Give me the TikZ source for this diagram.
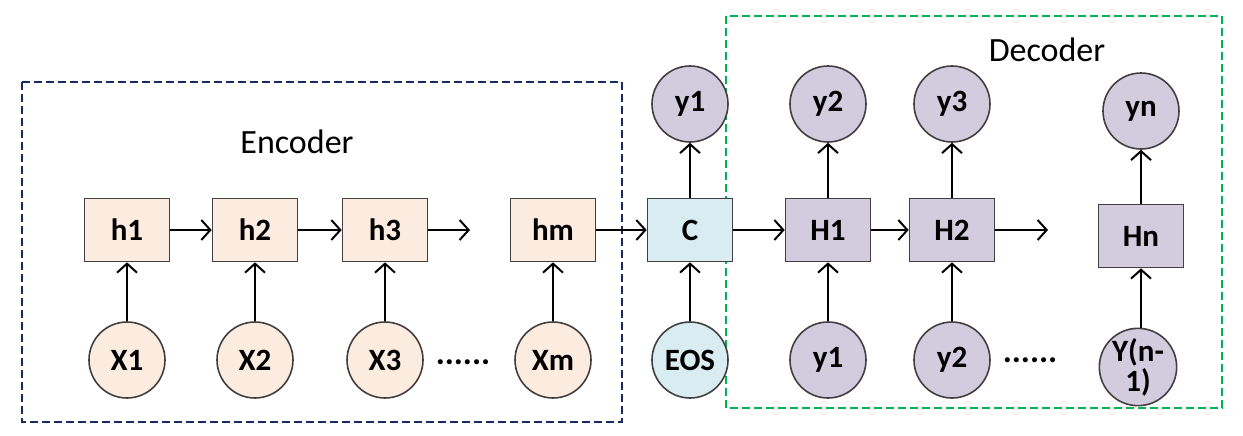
\documentclass[tikz,border=0pt]{standalone}
\usepackage{fontspec}
\setmainfont{Carlito}
\usetikzlibrary{arrows.meta}

\definecolor{encfill}{RGB}{252,236,224}
\definecolor{ctxfill}{RGB}{216,236,241}
\definecolor{decfill}{RGB}{211,203,222}
\definecolor{encline}{RGB}{24,44,100}
\definecolor{decline}{RGB}{0,178,80}

\tikzset{
  cell/.style={draw=black!75, line width=0.8pt, minimum width=42.5pt, minimum height=31.5pt, inner sep=0pt, font=\fontsize{15.5}{17}\selectfont\bfseries},
  unit/.style={draw=black!75, line width=0.8pt, circle, minimum size=38pt, inner sep=0pt, align=center, font=\fontsize{15.5}{15}\selectfont\bfseries},
  flow/.style={-{Straight Barb[length=4.5pt, width=10pt, line width=1pt]}, line width=1pt},
  frame/.style={dashed, line width=1.2pt, dash pattern=on 4pt off 2pt}
}

\begin{document}
\begin{tikzpicture}[x=0.5pt, y=-0.5pt]
\useasboundingbox (0,0) rectangle (1243,435);

\draw[frame, encline] (22,82) rectangle (622,422);
\draw[frame, decline] (726,16) rectangle (1222,408);

\node[font=\fontsize{17}{20}\selectfont] (enc) at (297,142) {Encoder};
\node[font=\fontsize{17}{20}\selectfont] (dec) at (1047,50) {Decoder};

% encoder
\node[cell, fill=encfill] (h1) at (127,230) {h1};
\node[cell, fill=encfill] (h2) at (255,230) {h2};
\node[cell, fill=encfill] (h3) at (385,230) {h3};
\node[cell, fill=encfill] (hm) at (553,230) {hm};
\node[unit, fill=encfill] (x1) at (127,360) {X1};
\node[unit, fill=encfill] (x2) at (255,360) {X2};
\node[unit, fill=encfill] (x3) at (385,360) {X3};
\node[unit, fill=encfill] (xm) at (553,360) {Xm};
\node[font=\fontsize{17}{17}\selectfont\bfseries] (encdots) at (463,362) {......};
\coordinate (h3end) at (470,230);

% context
\node[cell, fill=ctxfill] (c) at (690,230) {C};
\node[unit, fill=ctxfill] (eos) at (690,360) {EOS};
\node[unit, fill=decfill] (out1) at (690,104) {y1};

% decoder
\node[cell, fill=decfill] (H1) at (828,230) {H1};
\node[cell, fill=decfill] (H2) at (952,230) {H2};
\node[cell, fill=decfill] (Hn) at (1141,236) {Hn};
\node[unit, fill=decfill] (out2) at (828,104) {y2};
\node[unit, fill=decfill] (out3) at (952,104) {y3};
\node[unit, fill=decfill] (outn) at (1141,111) {yn};
\node[unit, fill=decfill] (in1) at (828,360) {y1};
\node[unit, fill=decfill] (in2) at (952,360) {y2};
\node[unit, fill=decfill] (inn) at (1138,367) {Y(n-\\1)};
\node[font=\fontsize{17}{17}\selectfont\bfseries] (decdots) at (1030,360) {......};
\coordinate (H2end) at (1048,230);

\draw[flow] (h1) -- (h2);
\draw[flow] (h2) -- (h3);
\draw[flow] (h3) -- (h3end);
\draw[flow] (hm) -- (c);
\draw[flow] (c) -- (H1);
\draw[flow] (H1) -- (H2);
\draw[flow] (H2) -- (H2end);

\draw[flow] (x1) -- (h1);
\draw[flow] (x2) -- (h2);
\draw[flow] (x3) -- (h3);
\draw[flow] (xm) -- (hm);
\draw[flow] (eos) -- (c);
\draw[flow] (in1) -- (H1);
\draw[flow] (in2) -- (H2);
\draw[flow] (inn.north -| Hn) -- (Hn);

\draw[flow] (c) -- (out1);
\draw[flow] (H1) -- (out2);
\draw[flow] (H2) -- (out3);
\draw[flow] (Hn) -- (outn);

\end{tikzpicture}
\end{document}
